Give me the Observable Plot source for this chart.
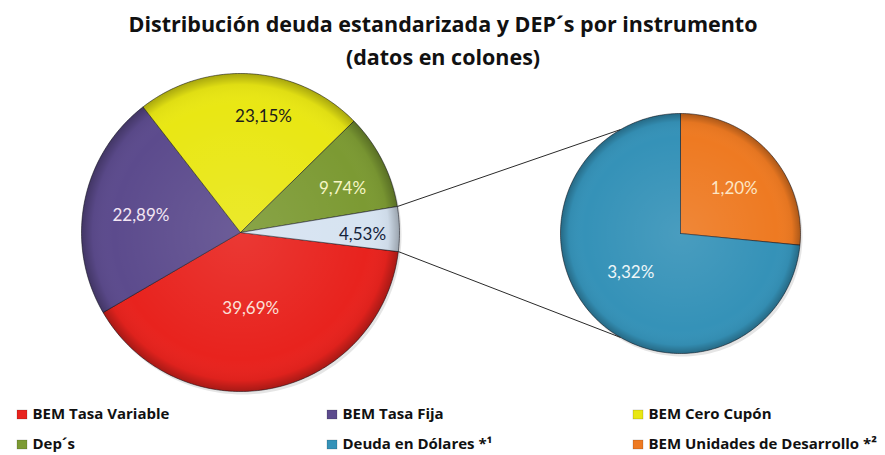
<!DOCTYPE html>
<html><head><meta charset="utf-8">
<script src="https://cdn.jsdelivr.net/npm/d3@7"></script>
<script src="https://cdn.jsdelivr.net/npm/@observablehq/plot@0.6"></script>
<style>body{margin:0;background:#fff}</style>
</head><body><div id="chart"></div>
<script>
// ---------- data ----------
const titleLines = ["Distribución deuda estandarizada y DEP´s por instrumento", "(datos en colones)"];
const mainCategories = ["BEM Tasa Variable", "BEM Tasa Fija", "BEM Cero Cupón", "Dep´s", "Otros"];
const mainValues = [39.69, 22.89, 23.15, 9.74, 4.53];
const mainLabels = ["39,69%", "22,89%", "23,15%", "9,74%", "4,53%"];
const subCategories = ["BEM Unidades de Desarrollo", "Deuda en Dólares"];
const subValues = [1.20, 3.32];
const subLabels = ["1,20%", "3,32%"];
const legendNames = ["BEM Tasa Variable", "BEM Tasa Fija", "BEM Cero Cupón", "Dep´s", "Deuda en Dólares *¹", "BEM Unidades de Desarrollo *²"];
const legendKeys = ["BEM Tasa Variable", "BEM Tasa Fija", "BEM Cero Cupón", "Dep´s", "Deuda en Dólares", "BEM Unidades de Desarrollo"];

// ---------- style / layout ----------
const colorDomain = ["BEM Tasa Variable", "BEM Tasa Fija", "BEM Cero Cupón", "Dep´s", "Otros", "Deuda en Dólares", "BEM Unidades de Desarrollo"];
const colorRange = ["#e8231e", "#5c4b8d", "#e9e714", "#7c9a33", "#d6e3f1", "#3592b8", "#ee7a22"];
const labelColors = {"BEM Tasa Variable": "#fbe0d8", "BEM Tasa Fija": "#f3e6f4", "BEM Cero Cupón": "#1c1c1c", "Dep´s": "#f6f6c6", "Otros": "#14223a", "Deuda en Dólares": "#eef6f8", "BEM Unidades de Desarrollo": "#fde6c4"};
const L = {cx: 240, cy: 232, r: 159, start: 6.9};
const R = {cx: 680, cy: 233, r: 120, start: -90};
const mainLabelR = [77, 101, 118, 111, 122];
const mainLabelDA = [4, -1.4, 7.4, 3.7, 2.2];
const subLabelR = [70, 63];
const subLabelDA = [2.3, 4.3];
const connectorAngle = 120;
const legendColX = [17, 327, 633];
const legendRowY = [414, 444];
const FONT = "Lato, 'Open Sans', sans-serif";
const TFONT = "'Open Sans', Lato, sans-serif";

const rad = d => d * Math.PI / 180;

function pie(cats, vals, labels, P, labelR, labelDA) {
  const total = d3.sum(vals);
  let a = P.start;
  const polys = [], labs = [], angles = [];
  cats.forEach((c, i) => {
    const sweep = vals[i] / total * 360;
    const a0 = a, a1 = a + sweep; a = a1;
    angles.push([a0, a1]);
    polys.push({name: c, x: P.cx, y: P.cy});
    const n = Math.max(2, Math.ceil(sweep));
    for (let k = 0; k <= n; k++) {
      const t = rad(a0 + (a1 - a0) * k / n);
      polys.push({name: c, x: P.cx + P.r * Math.cos(t), y: P.cy + P.r * Math.sin(t)});
    }
    polys.push({name: c, x: P.cx, y: P.cy});
    const m = rad((a0 + a1) / 2 + labelDA[i]);
    labs.push({name: c, text: labels[i], x: P.cx + labelR[i] * Math.cos(m), y: P.cy + labelR[i] * Math.sin(m)});
  });
  return {polys, labs, angles};
}

function circle(P, key) {
  const pts = [];
  for (let k = 0; k <= 180; k++) {
    const t = rad(k * 2);
    pts.push({name: key, x: P.cx + P.r * Math.cos(t), y: P.cy + P.r * Math.sin(t)});
  }
  return pts;
}

const left = pie(mainCategories, mainValues, mainLabels, L, mainLabelR, mainLabelDA);
const right = pie(subCategories, subValues, subLabels, R, subLabelR, subLabelDA);
const other = left.angles[mainCategories.indexOf("Otros")];

// other[0] is the upper edge, other[1] the lower edge (angles run clockwise on screen)
const connectors = [
  {x1: L.cx + L.r * Math.cos(rad(other[0])), y1: L.cy + L.r * Math.sin(rad(other[0])),
   x2: R.cx + R.r * Math.cos(rad(-connectorAngle)), y2: R.cy + R.r * Math.sin(rad(-connectorAngle))},
  {x1: L.cx + L.r * Math.cos(rad(other[1])), y1: L.cy + L.r * Math.sin(rad(other[1])),
   x2: R.cx + R.r * Math.cos(rad(connectorAngle)), y2: R.cy + R.r * Math.sin(rad(connectorAngle))}
];

const legend = legendNames.map((t, i) => ({
  key: legendKeys[i], text: t,
  x: legendColX[i % 3], y: legendRowY[Math.floor(i / 3)]
}));

const labelsAll = [...left.labs, ...right.labs];

const svg = Plot.plot({
  width: 885, height: 455,
  marginTop: 0, marginRight: 0, marginBottom: 0, marginLeft: 0,
  x: {domain: [0, 885], range: [0, 885], axis: null},
  y: {domain: [0, 455], range: [0, 455], axis: null},
  color: {type: "ordinal", domain: colorDomain, range: colorRange},
  style: {background: "#fff", overflow: "visible"},
  marks: [
    // soft shadows
    Plot.line(circle({...L, cx: L.cx + 2, cy: L.cy + 3}, "s"), {x: "x", y: "y", fill: "rgba(0,0,0,0.10)", stroke: "none"}),
    Plot.line(circle({...R, cx: R.cx + 2, cy: R.cy + 3}, "s"), {x: "x", y: "y", fill: "rgba(0,0,0,0.10)", stroke: "none"}),
    // slices
    Plot.line(left.polys, {x: "x", y: "y", z: "name", fill: "name", stroke: "rgba(20,20,30,0.55)", strokeWidth: 1, strokeLinejoin: "round"}),
    Plot.line(right.polys, {x: "x", y: "y", z: "name", fill: "name", stroke: "rgba(20,20,30,0.55)", strokeWidth: 1, strokeLinejoin: "round"}),
    // bevel shading
    Plot.line(circle(L, "l"), {x: "x", y: "y", fill: "url(#bevel)", stroke: "none"}),
    Plot.line(circle(R, "r"), {x: "x", y: "y", fill: "url(#bevel)", stroke: "none"}),
    // connectors
    Plot.link(connectors, {x1: "x1", y1: "y1", x2: "x2", y2: "y2", stroke: "#2a2a2a", strokeWidth: 1}),
    // slice labels
    Plot.text(labelsAll, {x: "x", y: "y", text: "text", fill: d => labelColors[d.name], fontSize: 17, fontFamily: FONT}),
    // title
    Plot.text(titleLines, {x: () => 442.5, y: (d, i) => [25, 58][i], text: d => d, fontSize: 21.5, fontWeight: "bold", fontFamily: TFONT, fill: "#111"}),
    // legend
    Plot.rect(legend, {x1: d => d.x, x2: d => d.x + 10, y1: d => d.y - 4, y2: d => d.y + 5, fill: d => colorRange[colorDomain.indexOf(d.key)], stroke: "rgba(0,0,0,0.3)", strokeWidth: 0.5}),
    Plot.text(legend, {x: d => d.x + 15, y: "y", text: "text", textAnchor: "start", fontSize: 15, fontWeight: "bold", fontFamily: TFONT, fill: "#111"})
  ]
});

svg.insertAdjacentHTML("afterbegin", `<defs>
  <radialGradient id="bevel" cx="50%" cy="50%" r="50%">
    <stop offset="0%" stop-color="#fff" stop-opacity="0.10"/>
    <stop offset="80%" stop-color="#fff" stop-opacity="0"/>
    <stop offset="93%" stop-color="#000" stop-opacity="0.04"/>
    <stop offset="100%" stop-color="#000" stop-opacity="0.28"/>
  </radialGradient>
</defs>`);
document.getElementById("chart").appendChild(svg);
</script>
</body></html>
